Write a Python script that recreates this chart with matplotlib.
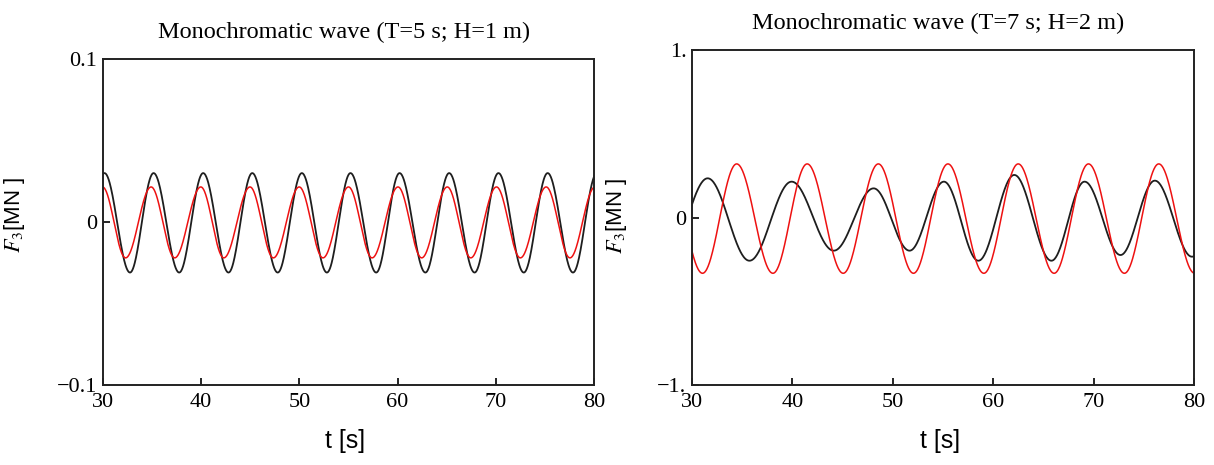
import numpy as np
import matplotlib
matplotlib.use("Agg")
import matplotlib.pyplot as plt

plt.rcParams['font.family'] = 'Liberation Serif'
plt.rcParams['mathtext.fontset'] = 'stix'

# extrema of the heave force F3 [MN] (time in s, value in MN)
# T = 5 s, H = 1 m
t5_black = [27.65, 30.15, 32.75, 35.15, 37.76, 40.2, 42.78, 45.2, 47.79, 50.25, 52.8,
            55.2, 57.82, 60.2, 62.83, 65.25, 67.84, 70.27, 72.85, 75.28, 77.86, 80.3]
f5_black = [-0.031, 0.030, -0.031, 0.030, -0.031, 0.030, -0.031, 0.030, -0.031, 0.030, -0.031,
            0.030, -0.031, 0.030, -0.031, 0.030, -0.031, 0.030, -0.031, 0.030, -0.031, 0.030]
t5_red = [27.45, 29.95, 32.3, 34.9, 37.3, 39.96, 42.3, 44.97, 47.35, 49.98, 52.4,
          55.0, 57.4, 60.04, 62.45, 65.06, 67.45, 70.07, 72.5, 75.13, 77.55, 80.1]
f5_red = [-0.022, 0.0215, -0.022, 0.0215, -0.022, 0.0215, -0.022, 0.0215, -0.022, 0.0215, -0.022,
          0.0215, -0.022, 0.0215, -0.022, 0.0215, -0.022, 0.0215, -0.022, 0.0215, -0.022, 0.0215]

# T = 7 s, H = 2 m
t7_black = [27.5, 31.56, 35.72, 39.92, 44.12, 48.09, 51.67, 55.09, 58.52, 62.1, 65.8,
            69.1, 72.68, 76.1, 79.8, 83.5]
f7_black = [-0.25, 0.234, -0.258, 0.214, -0.198, 0.174, -0.198, 0.214, -0.258, 0.254, -0.258,
            0.214, -0.224, 0.220, -0.234, 0.22]
t7_red = [27.5, 31.05, 34.45, 38.06, 41.47, 45.06, 48.56, 52.06, 55.49, 59.07, 62.49,
          66.07, 69.49, 73.07, 76.49, 80.07, 83.5]
f7_red = [0.32, -0.333, 0.32, -0.333, 0.32, -0.333, 0.32, -0.333, 0.32, -0.333, 0.32,
          -0.333, 0.32, -0.333, 0.32, -0.333, 0.32]

x_ticks = [30, 40, 50, 60, 70, 80]
y_ticks_5 = [-0.1, 0, 0.1]
y_labels_5 = ['\u22120.1', '0', '0.1']
y_ticks_7 = [-1, 0, 1]
y_labels_7 = ['\u22121.', '0', '1.']

titles = ['Monochromatic wave (T=5 s; H=1 m)', 'Monochromatic wave (T=7 s; H=2 m)']


def smooth_wave(t_ext, f_ext, n=80):
    """Join consecutive extrema with half-cosine segments."""
    ts, fs = [], []
    for i in range(len(t_ext) - 1):
        s = np.linspace(0, 1, n)
        ts.append(t_ext[i] + s * (t_ext[i + 1] - t_ext[i]))
        fs.append(f_ext[i] + (f_ext[i + 1] - f_ext[i]) * (1 - np.cos(np.pi * s)) / 2)
    return np.concatenate(ts), np.concatenate(fs)


fig = plt.figure(figsize=(12.14, 4.65), dpi=100)
ax1 = fig.add_axes([103 / 1214, 1 - 385 / 465, 491 / 1214, 326 / 465])
ax2 = fig.add_axes([692 / 1214, 1 - 385 / 465, 502 / 1214, 335 / 465])

panels = [
    (ax1, t5_black, f5_black, t5_red, f5_red, y_ticks_5, y_labels_5, 0.1),
    (ax2, t7_black, f7_black, t7_red, f7_red, y_ticks_7, y_labels_7, 1.0),
]

for i, (ax, tb, fb, tr, fr, yt, yl, lim) in enumerate(panels):
    x, y = smooth_wave(tb, fb)
    ax.plot(x, y, color='#1e1e1e', lw=1.3)
    x, y = smooth_wave(tr, fr)
    ax.plot(x, y, color='#ee1111', lw=1.1)

    ax.set_xlim(30, 80)
    ax.set_ylim(-lim, lim)
    ax.set_xticks(x_ticks)
    ax.set_xticklabels([str(v) for v in x_ticks])
    ax.set_yticks(yt)
    ax.set_yticklabels(yl)
    ax.tick_params(direction='in', length=5, width=1.2, labelsize=16, pad=4,
                   top=False, right=False)
    ax.tick_params(axis='x', pad=6)
    for sp in ax.spines.values():
        sp.set_linewidth(1.4)
        sp.set_color('#222222')

    ax.set_xlabel('t [s]', fontsize=18, family='Liberation Sans')
    ax.set_ylabel('$F_3$[MN ]', fontsize=16, family='Liberation Sans')
    ax.text(0.49, 1.08, titles[i], transform=ax.transAxes, ha='center', va='center',
            fontsize=17.5)

ax1.xaxis.set_label_coords(0.493, -0.135)
ax2.xaxis.set_label_coords(0.494, -0.132)
ax1.yaxis.set_label_coords(-0.155, 0.52)
ax2.yaxis.set_label_coords(-0.1255, 0.504)

fig.savefig('out.png', dpi=100)
